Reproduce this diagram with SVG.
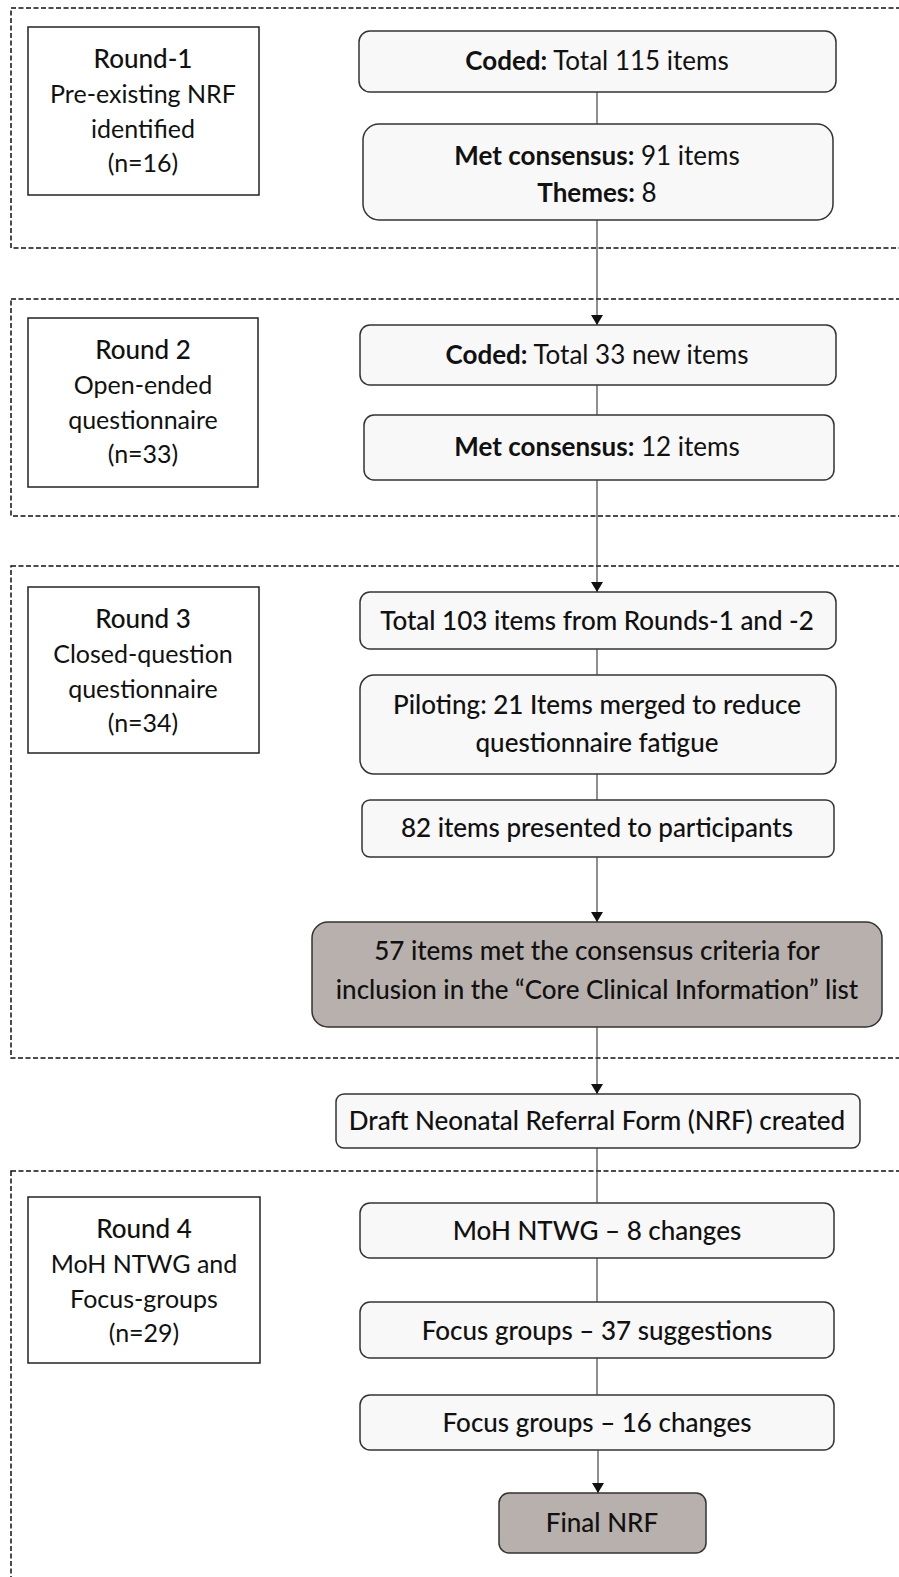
<svg xmlns="http://www.w3.org/2000/svg" width="899" height="1577" viewBox="0 0 899 1577">
<defs>
<marker id="arr" viewBox="0 0 10 12" refX="10" refY="6" markerWidth="10" markerHeight="12" markerUnits="userSpaceOnUse" orient="auto">
<path d="M0,0 L10,6 L0,12 Z" fill="#111"/>
</marker>
<style>
.frame{fill:none;stroke:#111;stroke-width:1.5;stroke-dasharray:5 2.5}
.rbox{fill:#fff;stroke:#222;stroke-width:1.5}
.box{fill:#f8f8f8;stroke:#333;stroke-width:1.5}
.dark{fill:#b8b0ad;stroke:#333;stroke-width:1.5}
text{font-family:Lato,"Open Sans","Liberation Sans",sans-serif;font-size:26px;fill:#111;text-anchor:middle;font-weight:400}
.lt{font-size:25px}
.r{font-weight:500}
.b{font-weight:700}
.conn line{stroke:#444;stroke-width:1.2}
</style>
</defs>
<rect width="899" height="1577" fill="#fff"/>
<g id="frames">
<rect class="frame" x="11" y="8" width="900" height="240"/>
<rect class="frame" x="11" y="299" width="900" height="217"/>
<rect class="frame" x="11" y="566" width="900" height="492"/>
<rect class="frame" x="11" y="1171" width="900" height="430"/>
</g>
<g id="round1"><rect class="rbox" x="28" y="27" width="231" height="168"/>
<text x="143" y="68" class="r">Round-1</text><text x="143" y="103" class="lt">Pre-existing NRF</text><text x="143" y="138" class="lt">identified</text><text x="143" y="172" class="lt">(n=16)</text></g>
<g id="round2"><rect class="rbox" x="28" y="318" width="230" height="169"/>
<text x="143" y="359" class="r">Round 2</text><text x="143" y="394" class="lt">Open-ended</text><text x="143" y="429" class="lt">questionnaire</text><text x="143" y="463" class="lt">(n=33)</text></g>
<g id="round3"><rect class="rbox" x="28" y="587" width="231" height="166"/>
<text x="143" y="628" class="r">Round 3</text><text x="143" y="663" class="lt">Closed-question</text><text x="143" y="698" class="lt">questionnaire</text><text x="143" y="732" class="lt">(n=34)</text></g>
<g id="round4"><rect class="rbox" x="28" y="1197" width="232" height="166"/>
<text x="144" y="1238" class="r">Round 4</text><text x="144" y="1273" class="lt">MoH NTWG and</text><text x="144" y="1308" class="lt">Focus-groups</text><text x="144" y="1342" class="lt">(n=29)</text></g>

<g id="coded1"><rect class="box" x="359" y="31" width="477" height="61" rx="11"/>
<text x="597" y="70"><tspan class="b">Coded:</tspan> Total 115 items</text></g>
<g id="met1"><rect class="box" x="363" y="124" width="470" height="96" rx="16"/>
<text x="597" y="165"><tspan class="b">Met consensus:</tspan> 91 items</text><text x="597" y="202"><tspan class="b">Themes:</tspan> 8</text></g>
<g id="coded2"><rect class="box" x="360" y="325" width="476" height="60" rx="10"/>
<text x="597" y="364"><tspan class="b">Coded:</tspan> Total 33 new items</text></g>
<g id="met2"><rect class="box" x="364" y="415" width="470" height="65" rx="10"/>
<text x="597" y="456"><tspan class="b">Met consensus:</tspan> 12 items</text></g>
<g id="total103"><rect class="box" x="360" y="592" width="476" height="57" rx="10"/>
<text x="597" y="630" class="r">Total 103 items from Rounds-1 and -2</text></g>
<g id="piloting"><rect class="box" x="360" y="675" width="476" height="99" rx="14"/>
<text x="597" y="714" class="r">Piloting: 21 Items merged to reduce</text><text x="597" y="752" class="r">questionnaire fatigue</text></g>
<g id="items82"><rect class="box" x="362" y="800" width="472" height="57" rx="8"/>
<text x="597" y="837" class="r">82 items presented to participants</text></g>
<g id="items57"><rect class="dark" x="312" y="922" width="570" height="105" rx="16"/>
<text x="597" y="960" class="r">57 items met the consensus criteria for</text><text x="597" y="999" class="r">inclusion in the “Core Clinical Information” list</text></g>
<g id="draft"><rect class="box" x="336" y="1094" width="524" height="54" rx="8"/>
<text x="597" y="1130" class="r">Draft Neonatal Referral Form (NRF) created</text></g>
<g id="moh"><rect class="box" x="360" y="1203" width="474" height="55" rx="10"/>
<text x="597" y="1240" class="r">MoH NTWG – 8 changes</text></g>
<g id="focus37"><rect class="box" x="360" y="1302" width="474" height="56" rx="10"/>
<text x="597" y="1340" class="r">Focus groups – 37 suggestions</text></g>
<g id="focus16"><rect class="box" x="360" y="1395" width="474" height="55" rx="10"/>
<text x="597" y="1432" class="r">Focus groups – 16 changes</text></g>
<g id="final"><rect class="dark" x="499" y="1493" width="207" height="60" rx="10"/>
<text x="602" y="1532" class="r">Final NRF</text></g>

<g class="conn" id="connectors">
<line x1="597" y1="92" x2="597" y2="124"/>
<line x1="597" y1="220" x2="597" y2="325" marker-end="url(#arr)"/>
<line x1="597" y1="385" x2="597" y2="415"/>
<line x1="597" y1="480" x2="597" y2="592" marker-end="url(#arr)"/>
<line x1="597" y1="649" x2="597" y2="675"/>
<line x1="597" y1="774" x2="597" y2="800"/>
<line x1="597" y1="857" x2="597" y2="922" marker-end="url(#arr)"/>
<line x1="597" y1="1027" x2="597" y2="1094" marker-end="url(#arr)"/>
<line x1="597" y1="1148" x2="597" y2="1203"/>
<line x1="597" y1="1258" x2="597" y2="1302"/>
<line x1="597" y1="1358" x2="597" y2="1395"/>
<line x1="598" y1="1450" x2="598" y2="1493" marker-end="url(#arr)"/>
</g>
</svg>
